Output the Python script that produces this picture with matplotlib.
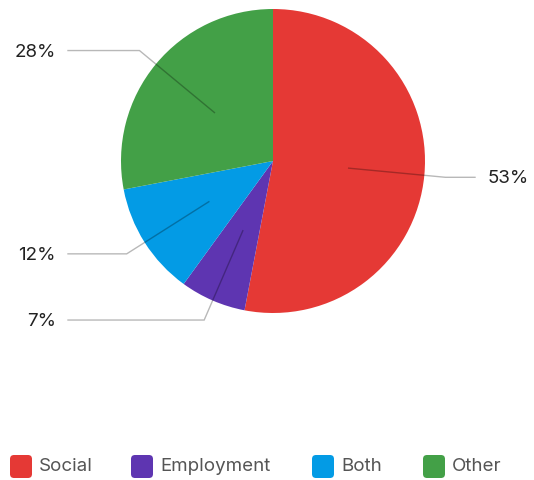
import numpy as np
import matplotlib.pyplot as plt
from matplotlib.patches import FancyBboxPatch

plt.rcParams['font.family'] = ['Inter', 'DejaVu Sans']

categories = ['Social', 'Employment', 'Both', 'Other']
shares = [53, 7, 12, 28]
colors = ['#e53935', '#5e35b1', '#039be5', '#43a047']

W, H = 534, 480
fig = plt.figure(figsize=(W / 100, H / 100), dpi=100)
ax = fig.add_axes([0, 0, 1, 1])

cx, cy, r = 273, H - 161, 152
wedges, _ = ax.pie(shares, colors=colors, startangle=90, counterclock=False,
                   center=(cx, cy), radius=r, frame=True,
                   wedgeprops=dict(linewidth=0))
ax.set_xlim(0, W)
ax.set_ylim(0, H)
ax.set_aspect('equal')
ax.axis('off')

# leader lines: from inside the slice, out past the rim, then horizontal
for w, val in zip(wedges, shares):
    mid = np.deg2rad((w.theta1 + w.theta2) / 2)
    x0, y0 = cx + 0.5 * r * np.cos(mid), cy + 0.5 * r * np.sin(mid)
    x1, y1 = cx + 1.14 * r * np.cos(mid), cy + 1.14 * r * np.sin(mid)
    if np.cos(mid) >= 0:
        x2, tx, ha = 475, 488, 'left'
    else:
        x2, tx, ha = 68, 56, 'right'
    ax.plot([x0, x1, x2], [y0, y1, y1], color='black', alpha=0.28, lw=1,
            solid_joinstyle='miter')
    ax.text(tx, y1 - 1.5, f'{val}%', ha=ha, va='center', fontsize=13.5,
            color='#222222')

# legend row
legend_x = [10, 131, 312, 423]
ly = H - 466.5
for x, name, c in zip(legend_x, categories, colors):
    box = FancyBboxPatch((x + 3, ly - 8.5), 16, 17,
                         boxstyle='round,pad=3,rounding_size=4',
                         facecolor=c, edgecolor='none')
    ax.add_patch(box)
    ax.text(x + 29, ly, name, ha='left', va='center', fontsize=13.5,
            color='#555555')

fig.savefig('out.png', dpi=100)
